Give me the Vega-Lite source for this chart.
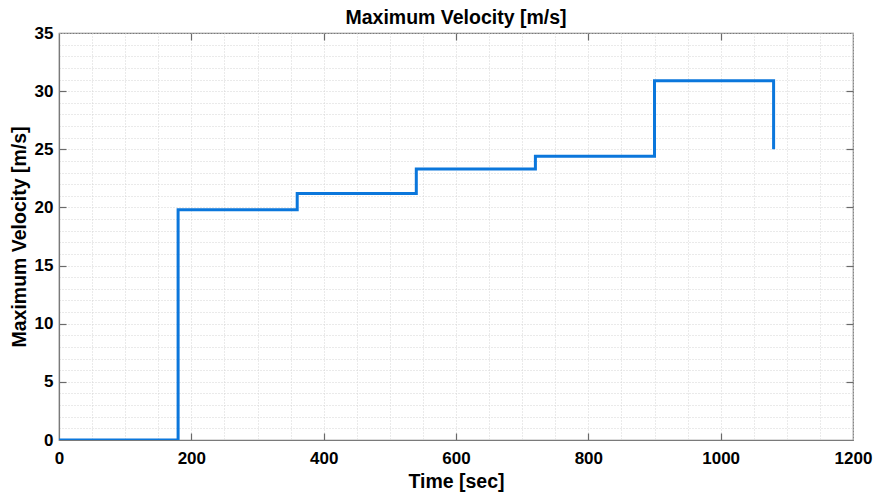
{
  "$schema": "https://vega.github.io/schema/vega-lite/v6.json",
  "width": 794,
  "height": 407,
  "autosize": {"type": "none"},
  "padding": {"left": 59, "top": 33, "right": 30, "bottom": 56},
  "background": "white",
  "title": {
    "text": "Maximum Velocity [m/s]",
    "font": "Liberation Sans",
    "fontSize": 19.5,
    "fontWeight": "bold",
    "color": "black",
    "offset": -4,
    "anchor": "middle"
  },
  "config": {
    "view": {"stroke": "#7a7a7a", "strokeWidth": 1.2},
    "axis": {
      "labelFont": "Liberation Sans",
      "labelFontSize": 17,
      "labelFontWeight": "bold",
      "labelColor": "black",
      "titleFont": "Liberation Sans",
      "titleFontSize": 19.5,
      "titleFontWeight": "bold",
      "titleColor": "black",
      "domainColor": "#7a7a7a",
      "domainWidth": 1.2,
      "tickColor": "#6a6a6a",
      "gridColor": "#d4d4d4",
      "gridDash": [1, 2],
      "gridWidth": 1
    }
  },
  "data": {
    "values": [
      {"i": 0, "t": 0, "v": 0},
      {"i": 1, "t": 180, "v": 0},
      {"i": 2, "t": 180, "v": 19.8},
      {"i": 3, "t": 360, "v": 19.8},
      {"i": 4, "t": 360, "v": 21.2},
      {"i": 5, "t": 540, "v": 21.2},
      {"i": 6, "t": 540, "v": 23.3},
      {"i": 7, "t": 720, "v": 23.3},
      {"i": 8, "t": 720, "v": 24.4},
      {"i": 9, "t": 900, "v": 24.4},
      {"i": 10, "t": 900, "v": 30.9},
      {"i": 11, "t": 1080, "v": 30.9},
      {"i": 12, "t": 1080, "v": 25.0}
    ]
  },
  "layer": [
    {
      "mark": {"type": "line", "opacity": 0},
      "encoding": {
        "order": {"field": "i", "type": "quantitative"},
        "x": {
          "field": "t",
          "type": "quantitative",
          "scale": {"domain": [0, 1200], "nice": false},
          "axis": {
            "orient": "top",
            "title": null,
            "labels": false,
            "grid": false,
            "domain": false,
            "values": [200, 400, 600, 800, 1000],
            "tickSize": -7,
            "tickWidth": 1.2
          }
        },
        "y": {
          "field": "v",
          "type": "quantitative",
          "scale": {"domain": [0, 35], "nice": false},
          "axis": {
            "orient": "right",
            "title": null,
            "labels": false,
            "grid": false,
            "domain": false,
            "values": [5, 10, 15, 20, 25, 30],
            "tickSize": -7,
            "tickWidth": 1.2
          }
        }
      }
    },
    {
      "mark": {"type": "line", "color": "#0b77dc", "strokeWidth": 3, "strokeJoin": "miter", "clip": true},
      "encoding": {
        "order": {"field": "i", "type": "quantitative"},
        "x": {
          "field": "t",
          "type": "quantitative",
          "scale": {"domain": [0, 1200], "nice": false},
          "axis": {
            "orient": "bottom",
            "grid": true,
            "title": "Time [sec]",
            "titlePadding": 6,
            "format": "d",
            "values": [0, 50, 100, 150, 200, 250, 300, 350, 400, 450, 500, 550, 600, 650, 700, 750, 800, 850, 900, 950, 1000, 1050, 1100, 1150, 1200],
            "labelExpr": "datum.value % 200 === 0 ? datum.label : ''",
            "labelFlush": false,
            "labelPadding": 17,
            "tickSize": -7,
            "tickOpacity": {"condition": {"test": "datum.value % 200 === 0 && datum.value > 0 && datum.value < 1200", "value": 1}, "value": 0},
            "tickWidth": 1.2
          }
        },
        "y": {
          "field": "v",
          "type": "quantitative",
          "scale": {"domain": [0, 35], "nice": false},
          "axis": {
            "orient": "left",
            "grid": true,
            "title": "Maximum Velocity [m/s]",
            "titlePadding": 5,
            "values": [0, 1, 2, 3, 4, 5, 6, 7, 8, 9, 10, 11, 12, 13, 14, 15, 16, 17, 18, 19, 20, 21, 22, 23, 24, 25, 26, 27, 28, 29, 30, 31, 32, 33, 34, 35],
            "labelExpr": "datum.value % 5 === 0 ? datum.label : ''",
            "labelFlush": false,
            "labelPadding": 13,
            "tickSize": -7,
            "tickOpacity": {"condition": {"test": "datum.value % 5 === 0 && datum.value > 0 && datum.value < 35", "value": 1}, "value": 0},
            "tickWidth": 1.2
          }
        }
      }
    }
  ],
  "resolve": {"axis": {"x": "independent", "y": "independent"}}
}
